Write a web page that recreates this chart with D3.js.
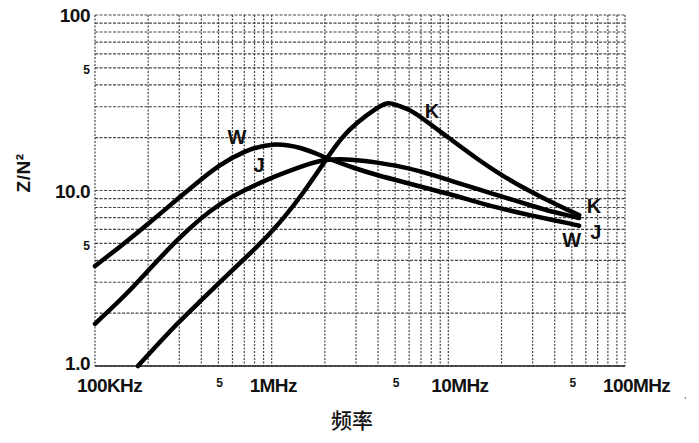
<!DOCTYPE html>
<html>
<head>
<meta charset="utf-8">
<script src="https://cdn.jsdelivr.net/npm/d3@7"></script>
<style>
  html, body { margin: 0; padding: 0; background: #fff; }
  svg { display: block; }
  .tick-big { font-family: "Liberation Sans", Arial, sans-serif; font-weight: bold; font-size: 19px; fill: #111; }
  .tick-small { font-family: "Liberation Sans", Arial, sans-serif; font-weight: bold; font-size: 12px; fill: #111; }
  .curve-label { font-family: "Liberation Sans", Arial, sans-serif; font-weight: bold; font-size: 20px; fill: #111; }
</style>
</head>
<body>
<svg id="chart" width="699" height="443"></svg>
<script>
// ---- data (frequency in MHz, value Z/N²) ----
const freqs = [0.1, 0.15, 0.2, 0.3, 0.4, 0.5, 0.7, 1, 1.5, 2, 3, 4, 5, 7, 10, 15, 20, 30, 40, 50, 55];
const seriesW = [3.71, 5.09, 6.44, 9.14, 11.6, 13.9, 16.8, 18.8, 17.6, 15.4, 13.3, 12.2, 11.5, 10.5, 9.6, 8.5, 7.88, 7.18, 6.76, 6.45, 6.3];
const seriesJ = [1.74, 2.55, 3.50, 5.40, 6.99, 8.32, 10.07, 11.87, 13.8, 15.2, 15.0, 14.4, 13.9, 12.9, 11.5, 10.1, 9.25, 8.16, 7.49, 7.14, 6.97];
const freqsK = [0.175, 0.2, 0.3, 0.4, 0.5, 0.7, 1, 1.5, 2, 2.5, 3, 4, 4.5, 5, 6, 7, 10, 15, 20, 30, 40, 50, 55];
const seriesK = [1.0, 1.16, 1.80, 2.37, 2.95, 4.08, 5.73, 9.51, 14.7, 20.2, 24.2, 29.9, 31.8, 31.0, 29.0, 26.2, 20.0, 14.8, 12.2, 9.7, 8.4, 7.55, 7.25];

const xMajorTicks = [0.1, 1, 10, 100];
const xMajorLabels = ["100KHz", "1MHz", "10MHz", "100MHz"];
const xMinorLabelTicks = [0.5, 5, 50];
const yMajorTicks = [1, 10, 100];
const yMajorLabels = ["1.0", "10.0", "100"];
const yMinorLabelTicks = [5, 50];
const yMinorLabels = ["5", "5"];

const curveLabels = [
  { name: "W", f: 0.636, v: 20.2 },
  { name: "J", f: 0.848, v: 14.0 },
  { name: "K", f: 8.08, v: 28.4 },
  { name: "K", f: 66.7, v: 8.16 },
  { name: "J", f: 68.4, v: 5.80 },
  { name: "W", f: 50.0, v: 5.22 }
];

const yTitle = "Z/N²";
const xTitle = "频率";

// ---- layout ----
const svg = d3.select("#chart");
const pLeft = 95, pRight = 625, pTop = 15, pBottom = 366;

const x = d3.scaleLog().domain([0.1, 100]).range([pLeft, pRight]);
const y = d3.scaleLog().domain([1, 100]).range([pBottom, pTop]);

// grid values
const gridX = [];
for (let d = 0.1; d < 100; d *= 10) for (let k = 1; k <= 9; k++) gridX.push(+(d * k).toPrecision(3));
gridX.push(100);
const gridY = [];
for (let d = 1; d < 100; d *= 10) for (let k = 1; k <= 9; k++) gridY.push(+(d * k).toPrecision(3));
gridY.push(100);

const grid = svg.append("g");
grid.selectAll("line.gx").data(gridX).join("line")
  .attr("x1", d => x(d)).attr("x2", d => x(d))
  .attr("y1", pTop).attr("y2", pBottom)
  .attr("stroke", "#333").attr("stroke-width", 1.2)
  .attr("stroke-dasharray", "2,1.5").attr("opacity", 0.9);
grid.selectAll("line.gy").data(gridY).join("line")
  .attr("y1", d => y(d)).attr("y2", d => y(d))
  .attr("x1", pLeft).attr("x2", pRight)
  .attr("stroke", "#333").attr("stroke-width", 1.2)
  .attr("stroke-dasharray", "3,1.5").attr("opacity", 0.9);
// bottom frame line
svg.append("line").attr("x1", pLeft).attr("x2", pRight).attr("y1", y(1)).attr("y2", y(1))
  .attr("stroke", "#222").attr("stroke-width", 1.5);

// ---- curves ----
const line = d3.line().x(d => x(d[0])).y(d => y(d[1])).curve(d3.curveBasis);
const curves = [
  d3.zip(freqs, seriesW),
  d3.zip(freqs, seriesJ),
  d3.zip(freqsK, seriesK)
];
svg.append("g").selectAll("path").data(curves).join("path")
  .attr("d", line)
  .attr("fill", "none").attr("stroke", "#000").attr("stroke-width", 4.5)
  .attr("stroke-linecap", "round").attr("stroke-linejoin", "round");

// curve labels
svg.append("g").selectAll("text").data(curveLabels).join("text")
  .attr("class", "curve-label")
  .attr("x", d => x(d.f)).attr("y", d => y(d.v))
  .attr("text-anchor", "middle").attr("dominant-baseline", "central")
  .text(d => d.name);

// ---- y axis labels ----
const yAx = svg.append("g");
yAx.selectAll("text.maj").data(yMajorTicks).join("text")
  .attr("class", "tick-big")
  .attr("x", 90).attr("y", d => y(d))
  .attr("dy", (d, i) => i === 0 ? "0.2em" : "0.38em")
  .attr("text-anchor", "end").attr("letter-spacing", "-0.5")
  .text((d, i) => yMajorLabels[i]);
yAx.selectAll("text.min").data(yMinorLabelTicks).join("text")
  .attr("class", "tick-small")
  .attr("x", 90).attr("y", d => y(d)).attr("dy", "0.55em")
  .attr("text-anchor", "end")
  .text((d, i) => yMinorLabels[i]);

// ---- x axis labels ----
const xAx = svg.append("g");
xAx.selectAll("text.maj").data(xMajorTicks).join("text")
  .attr("class", "tick-big")
  .attr("x", (d, i) => x(d) + [-18, -22, -17, -22][i]).attr("y", 392)
  .attr("text-anchor", "start").attr("letter-spacing", "-0.6")
  .text((d, i) => xMajorLabels[i]);
xAx.selectAll("text.min").data(xMinorLabelTicks).join("text")
  .attr("class", "tick-small")
  .attr("x", d => x(d) + 1).attr("y", 387)
  .attr("text-anchor", "middle")
  .text("5");

// small scan artifact comma
svg.append("text").attr("x", 684).attr("y", 398)
  .attr("font-family", "Liberation Sans, sans-serif").attr("font-size", 9).attr("fill", "#333").text(",");

// ---- titles ----
svg.append("text")
  .attr("transform", "translate(30,173) rotate(-90)")
  .attr("text-anchor", "middle")
  .attr("font-family", "Liberation Sans, Arial, sans-serif").attr("font-weight", "bold").attr("font-size", 19)
  .attr("letter-spacing", "0.5")
  .attr("fill", "#111")
  .text(yTitle);

svg.append("text")
  .attr("x", 352).attr("y", 428)
  .attr("text-anchor", "middle")
  .attr("font-family", "Noto Sans CJK SC, sans-serif").attr("font-size", 21).attr("font-weight", 500)
  .attr("fill", "#111")
  .text(xTitle);
</script>
</body>
</html>
